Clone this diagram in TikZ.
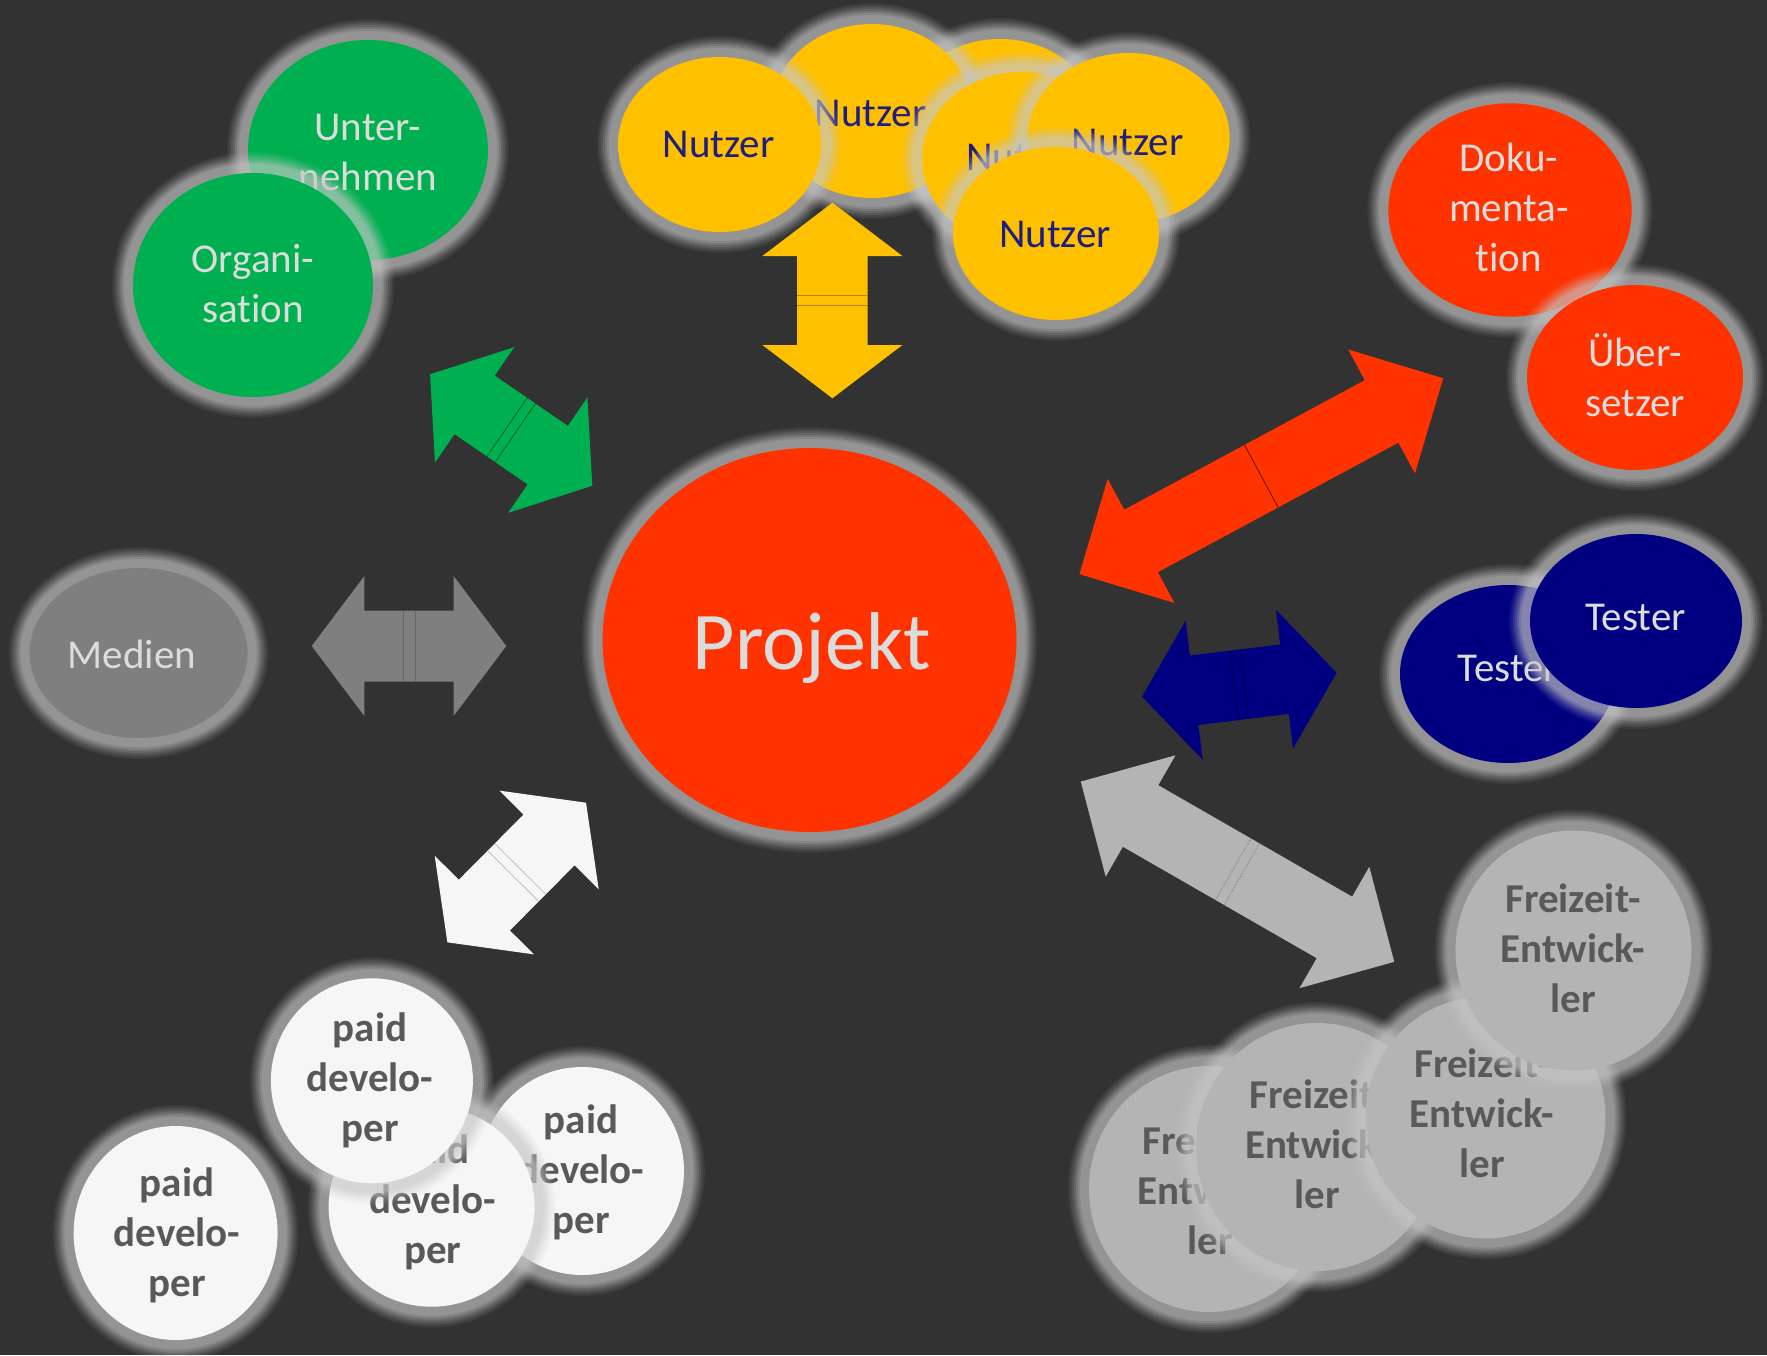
\documentclass[tikz,border=0pt]{standalone}
\usepackage{fontspec}
\setmainfont{Carlito}[Ligatures=NoCommon]
\definecolor{bgc}{HTML}{323232}
\definecolor{glowc}{HTML}{C8C8C8}
\definecolor{grn}{HTML}{00B050}
\definecolor{rd}{HTML}{FF3300}
\definecolor{yel}{HTML}{FFC000}
\definecolor{nav}{HTML}{000080}
\definecolor{lgray}{HTML}{B4B4B4}
\definecolor{wht}{HTML}{F6F6F6}
\definecolor{mgray}{HTML}{7F7F7F}
\definecolor{ltext}{HTML}{DCDCDC}
\definecolor{dtext}{HTML}{595959}
\definecolor{ntext}{HTML}{1E1E82}
\newcommand\ml[1]{\vtop{\baselineskip=50pt\lineskiplimit=-\maxdimen\halign{\hfil##\hfil\cr#1\crcr}}}
\newcommand\bub[6]{%
  \coordinate (#1) at (#2,#3);
  \foreach \gd/\go in {21/0.07,19/0.09,17/0.11,15/0.14,13/0.18,11/0.22,9/0.2}{%
    \fill[glowc,opacity=\go] (#1) ellipse [x radius={#4pt+\gd pt}, y radius={#5pt+\gd pt}];}
  \fill[#6] (#1) ellipse [x radius=#4pt, y radius=#5pt];}
\newcommand\dbl[9]{%
  \begin{scope}[shift={(#1)},rotate=#2]
    \fill[#7] (-#3,0) -- (-#3+#4,#5) -- (-#3+#4,#6) -- (#3-#4,#6) -- (#3-#4,#5) -- (#3,0)
      -- (#3-#4,-#5) -- (#3-#4,-#6) -- (-#3+#4,-#6) -- (-#3+#4,-#5) -- cycle;
    \draw[#8,line width=0.8pt] (-#9,-#6) -- (-#9,#6) (#9,-#6) -- (#9,#6);
  \end{scope}}
\begin{document}
\begin{tikzpicture}[x=1pt,y=-1pt,
  lbl/.style={inner sep=0pt,anchor=base,font=\fontsize{41}{50}\selectfont},
  lbb/.style={inner sep=0pt,anchor=base,font=\fontsize{41}{50}\selectfont\bfseries,text=dtext}]
\useasboundingbox (0,0) rectangle (1767,1355);
\fill[bgc] (0,0) rectangle (1767,1355);

% green group
\bub{unt}{368}{150}{120}{110}{grn}
\node[lbl,text=ltext] (unt-t) at (368,140) {\ml{Unter-\cr nehmen}};
\bub{org}{253}{285}{120}{112}{grn}
\node[lbl,text=ltext] (org-t) at (253,272) {\ml{Organi-\cr sation}};

% yellow group
\bub{nc}{1000}{126}{100}{87}{yel}
\bub{nb}{871.6}{111}{100}{87}{yel}
\node[lbl,text=ntext] (nb-t) at (870.5,126) {Nutzer};
\bub{na}{719.5}{144.5}{101.5}{87.5}{yel}
\node[lbl,text=ntext] (na-t) at (718.5,157) {Nutzer};
\bub{nd}{1022}{159}{100}{87}{yel}
\node[lbl,text=ntext] (nd-t) at (1022,170) {Nutzer};
\bub{ne}{1128.6}{138}{101}{85}{yel}
\node[lbl,text=ntext] (ne-t) at (1127.5,155) {Nutzer};
\bub{nf}{1056}{233.5}{103}{86.5}{yel}
\node[lbl,text=ntext] (nf-t) at (1055,247) {Nutzer};

% red group
\bub{doku}{1510}{210}{121.7}{106.7}{rd}
\node[lbl,text=ltext] (doku-t) at (1509,171.7) {\ml{Doku-\cr menta-\cr tion}};
\bub{ueb}{1635}{377.5}{108}{92.5}{rd}
\node[lbl,text=ltext] (ueb-t) at (1635,366.7) {\ml{Über-\cr setzer}};

% testers
\bub{tb}{1508}{674}{108}{89}{nav}
\node[lbl,text=ltext] (tb-t) at (1508,681.7) {Tester};
\bub{tf}{1636}{621}{106}{87}{nav}
\node[lbl,text=ltext] (tf-t) at (1635.6,630) {Tester};

% Medien
\bub{med}{138.6}{653}{109}{85}{mgray}
\node[lbl,text=ltext] (med-t) at (132,668) {Medien};

% Projekt
\bub{proj}{809.5}{640}{207}{192}{rd}
\node[inner sep=0pt,anchor=base,font=\fontsize{82}{98}\selectfont,text=ltext] (proj-t) at (811.5,669) {Projekt};

% paid developers
\bub{p4}{582}{1171}{102}{104}{wht}
\node[lbb] (p4-t) at (581,1133.3) {\ml{paid\cr develo-\cr per}};
\bub{p3}{431.6}{1206.7}{103}{100}{wht}
\node[lbb] (p3-t) at (432.7,1163.3) {\ml{paid\cr develo-\cr per}};
\bub{p2}{371.9}{1080.8}{101}{102.5}{wht}
\node[lbb] (p2-t) at (370,1041.7) {\ml{paid\cr develo-\cr per}};
\bub{p1}{175.6}{1233}{102}{107}{wht}
\node[lbb] (p1-t) at (177,1196.7) {\ml{paid\cr develo-\cr per}};

% Freizeit-Entwickler
\bub{f4}{1209}{1189}{120}{123}{lgray}
\node[lbb] (f4-t) at (1210,1154) {\ml{Freizeit-\cr Entwick-\cr ler}};
\bub{f3}{1317}{1147}{121}{124}{lgray}
\node[lbb] (f3-t) at (1317.5,1108) {\ml{Freizeit-\cr Entwick-\cr ler}};
\bub{f2}{1485.5}{1117.4}{120}{121}{lgray}
\node[lbb] (f2-t) at (1482,1077) {\ml{Freizeit-\cr Entwick-\cr ler}};
\bub{f1}{1573.5}{950.5}{118}{120}{lgray}
\node[lbb] (f1-t) at (1573,912) {\ml{Freizeit-\cr Entwick-\cr ler}};

% arrows
\coordinate (ay) at (832.4,300.5);
\dbl{ay}{90}{97.8}{53.3}{70}{35.3}{yel}{yel!70!black}{5}
\coordinate (ag) at (511.2,430);
\dbl{ag}{-34.5}{98.4}{54}{70}{35.5}{grn}{grn!55!black}{5}
\coordinate (am) at (409,646);
\dbl{am}{0}{97.3}{52.7}{70}{35.5}{mgray}{mgray!80!black}{6}
\coordinate (aw) at (516.7,872.5);
\dbl{aw}{45.2}{98.4}{52.5}{70}{36}{wht}{lightgray}{5}
\coordinate (ar) at (1261.3,476.2);
\dbl{ar}{28.3}{206.6}{70}{70.4}{35.5}{rd}{rd!40!black}{0}
\coordinate (ab) at (1239.3,684.7);
\dbl{ab}{7}{98}{52.5}{70}{35}{nav}{nav!60!black}{5}
\coordinate (al) at (1237.5,871.7);
\dbl{al}{-29.9}{180.8}{69}{70}{35.5}{lgray}{gray,densely dotted}{5}
\end{tikzpicture}
\end{document}
